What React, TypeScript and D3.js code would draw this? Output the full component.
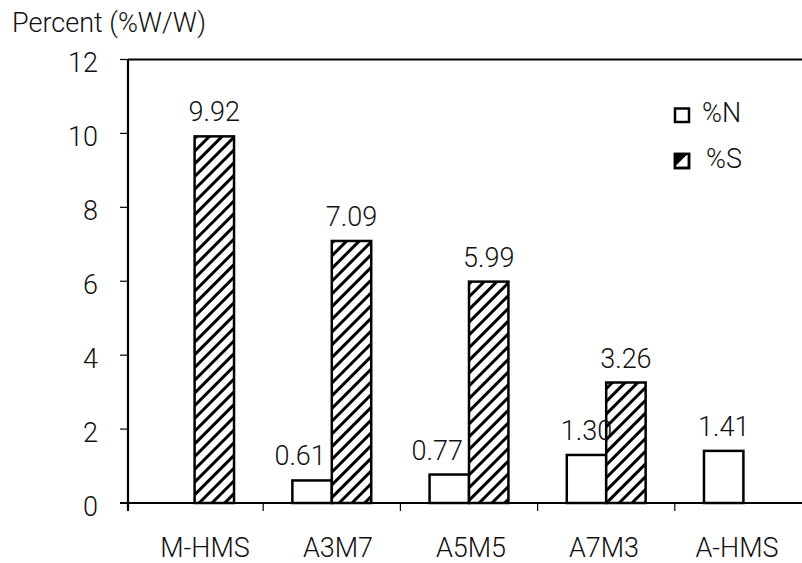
import React from "react";
import * as d3 from "d3";

const categories = ["M-HMS", "A3M7", "A5M5", "A7M3", "A-HMS"];
const seriesKeys = ["N", "S"];
const seriesLabels = ["%N", "%S"];
const nValues: (number | null)[] = [null, 0.61, 0.77, 1.3, 1.41];
const sValues: (number | null)[] = [9.92, 7.09, 5.99, 3.26, null];
const nLabelAnchor = ["middle", "end", "end", "middle", "middle"];
const yTicks = [0, 2, 4, 6, 8, 10, 12];
const yTitle = "Percent (%W/W)";

const W = 802;
const H = 563;
const FONT = "Roboto, 'Liberation Sans', Arial, sans-serif";
const FS = 27;
const FW = 300;

export default function App() {
  const x = d3.scaleBand<string>().domain(categories).range([126, 126 + 5 * 137.2]).paddingInner(0).paddingOuter(0);
  const x1 = d3.scaleBand<string>().domain(seriesKeys).range([0, x.bandwidth()]).paddingInner(0).paddingOuter(0.74);
  const xLabel = d3.scalePoint<string>().domain(categories).range([205, 737]);
  const y = d3.scaleLinear().domain([0, 12]).range([503, 59.5]);
  const axisX = 128;

  const bars: { key: string; cat: string; v: number; i: number }[] = [];
  categories.forEach((c, i) => {
    if (nValues[i] != null) bars.push({ key: "N", cat: c, v: nValues[i] as number, i });
    if (sValues[i] != null) bars.push({ key: "S", cat: c, v: sValues[i] as number, i });
  });

  const boundaries = categories.map((c) => x(c) as number);

  return (
    <div style={{ position: "absolute", left: 0, top: 0 }}>
      <svg width={W} height={H} style={{ display: "block", background: "#fff" }} fontFamily={FONT} fontWeight={FW}>
        <defs>
          <pattern id="hatch" patternUnits="userSpaceOnUse" width={9} height={9} patternTransform="rotate(45)">
            <rect width={9} height={9} fill="#fff" />
            <line x1={0} y1={0} x2={0} y2={9} stroke="#000" strokeWidth={6} />
          </pattern>
        </defs>

        {/* title */}
        <text x={12} y={32} fontSize={FS} fill="#111">{yTitle}</text>

        {/* bars */}
        {bars.map((b, k) => {
          const bx = (x(b.cat) as number) + (x1(b.key) as number);
          const bw = x1.bandwidth();
          const top = y(b.v);
          return (
            <rect key={k} x={bx} y={top} width={bw} height={y(0) - top}
              fill={b.key === "S" ? "url(#hatch)" : "#fff"} stroke="#000" strokeWidth={2.5} />
          );
        })}

        {/* value labels */}
        {bars.map((b, k) => {
          const bx = (x(b.cat) as number) + (x1(b.key) as number);
          const bw = x1.bandwidth();
          const anchor = b.key === "N" ? nLabelAnchor[b.i] : "middle";
          const tx = anchor === "end" ? bx + bw - 6 : bx + bw / 2;
          return (
            <text key={"l" + k} x={tx} y={y(b.v) - 15} fontSize={FS} textAnchor={anchor} fill="#111">
              {b.v.toFixed(2)}
            </text>
          );
        })}

        {/* axes */}
        <line x1={axisX} x2={axisX} y1={y(12)} y2={511} stroke="#000" strokeWidth={2.2} />
        <line x1={axisX} x2={W} y1={y(12)} y2={y(12)} stroke="#000" strokeWidth={2.2} />
        <line x1={120} x2={W} y1={y(0)} y2={y(0)} stroke="#000" strokeWidth={2.2} />
        {yTicks.map((t) => (
          <g key={t}>
            <line x1={120} x2={axisX} y1={y(t)} y2={y(t)} stroke="#000" strokeWidth={1.2} />
            <text x={98} y={y(t) + 12.5} fontSize={FS} textAnchor="end" fill="#111">{t}</text>
          </g>
        ))}
        {boundaries.map((bx, i) => (
          <line key={i} x1={i === 0 ? axisX : bx} x2={i === 0 ? axisX : bx} y1={y(0)} y2={511} stroke="#000" strokeWidth={1.2} />
        ))}
        {categories.map((c) => (
          <text key={c} x={xLabel(c)} y={557} fontSize={FS} textAnchor="middle" fill="#111">{c}</text>
        ))}

        {/* legend */}
        <rect x={675} y={108.5} width={14} height={13.5} fill="#fff" stroke="#000" strokeWidth={2.5} />
        <text x={702} y={122} fontSize={FS} fill="#111">{seriesLabels[0]}</text>
        <rect x={675} y={154} width={14} height={14} fill="#fff" stroke="#000" strokeWidth={2.5} />
        <polygon points="675,154 689,154 675,168" fill="#000" />
        <line x1={675} y1={168} x2={689} y2={154} stroke="#fff" strokeWidth={2} />
        <rect x={675} y={154} width={14} height={14} fill="none" stroke="#000" strokeWidth={2.5} />
        <text x={706} y={168} fontSize={FS} fill="#111">{seriesLabels[1]}</text>
      </svg>
    </div>
  );
}
